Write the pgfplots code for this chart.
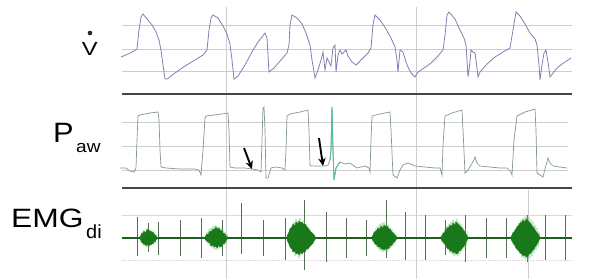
\documentclass[border=0pt]{standalone}
\usepackage{pgfplots}
\pgfplotsset{compat=1.18}
\usepackage{pgfplotstable}
\usepackage{fontspec}
\setmainfont{Liberation Sans}
\usetikzlibrary{arrows.meta}
\definecolor{flowc}{RGB}{135,125,180}
\definecolor{pawc}{RGB}{130,152,145}
\definecolor{pawspike}{RGB}{80,190,155}
\definecolor{gridc}{RGB}{205,205,205}
\definecolor{sepc}{RGB}{70,70,70}
\definecolor{emgdark}{RGB}{25,120,25}
\definecolor{emglight}{RGB}{90,190,90}
\definecolor{emgbase}{RGB}{30,95,30}
\definecolor{emgspike}{RGB}{85,110,85}
\definecolor{faintpink}{RGB}{230,210,225}

\pgfplotstableread{
x y dn up
137 238 21 18
148 238 15 14
158 238 16 17
180 238 18 18
201 238 20 20
222 238 18 18
241 238 35 16
263 238 18 18
285 238 20 22
304 238 38 32
326 238 26 24
346 238 20 20
366 238 18 18
386 238 38 20
405 238 26 22
425 238 23 22
445 238 18 17
465 238 23 24
486 238 20 20
506 238 20 20
527 238 23 24
545 238 23 22
565 238 23 22
}\spikes

\begin{document}
\begin{tikzpicture}
\begin{axis}[scale only axis, width=589pt, height=279pt,
  xmin=0, xmax=589, ymin=0, ymax=279, y dir=reverse,
  hide axis, clip=false]
\fill[white] (rel axis cs:0,0) rectangle (rel axis cs:1,1);
% grid lines
\draw[gridc, line width=0.6pt] (axis cs:122,25) -- (axis cs:572,25);
\draw[gridc, line width=0.6pt] (axis cs:122,49) -- (axis cs:572,49);
\draw[gridc, line width=0.6pt] (axis cs:122,71) -- (axis cs:572,71);
\draw[gridc, line width=0.6pt] (axis cs:122,122) -- (axis cs:568,122);
\draw[gridc, line width=0.6pt] (axis cs:122,146) -- (axis cs:568,146);
\draw[gridc, line width=0.6pt] (axis cs:122,170) -- (axis cs:568,170);
\draw[faintpink, line width=0.6pt] (axis cs:122,215) -- (axis cs:572,215);
\draw[faintpink, line width=0.6pt, dash pattern=on 2pt off 1pt] (axis cs:122,260) -- (axis cs:572,260);
\draw[gridc, line width=0.7pt] (axis cs:226,7) -- (axis cs:226,279);
\draw[gridc, line width=0.7pt] (axis cs:416,7) -- (axis cs:416,279);
\draw[gridc, line width=0.7pt] (axis cs:528,190) -- (axis cs:528,279);
% separators
\draw[sepc, line width=1.8pt] (axis cs:122,94) -- (axis cs:572,94);
\draw[sepc, line width=1.8pt] (axis cs:122,188) -- (axis cs:572,188);

% Flow
\addplot[flowc, line width=0.8pt] coordinates {
(121,57) (128,54) (134,51) (137,49) (139,30) (141,17) (143,14) (147,19) (152,25) (156,32) (159,40) (161,50) (163,65) (165,79) (167,79) (175,73) (185,66) (195,60) (203,55) (207,50) (209,30) (211,18) (213,15) (218,18) (223,26) (227,34) (230,44) (232,60) (234,79) (238,76) (245,65) (252,52) (258,42) (262,37) (265,33) (267,38) (268,55) (269,72) (274,68) (281,60) (287,53) (289,45) (290,25) (292,15) (297,18) (302,24) (306,33) (310,45) (312,60) (315,78) (318,70) (321,60) (323,52) (325,70) (327,58) (329,62) (331,66) (333,48) (335,45) (336,72) (338,55) (340,50) (342,54) (344,52) (346,50) (348,56) (352,62) (356,65) (362,59) (368,53) (371,48) (373,25) (375,15) (380,20) (386,29) (391,38) (395,47) (397,60) (398,72) (400,50) (403,52) (406,62) (408,67) (411,73) (415,77) (418,72) (424,68) (431,63) (438,56) (443,50) (445,35) (447,15) (449,12) (455,19) (460,30) (464,38) (466,45) (467,60) (468,77) (470,62) (471,50) (473,52) (475,53) (477,68) (478,77) (480,72) (487,64) (495,57) (503,52) (510,48) (513,30) (516,12) (520,16) (525,24) (530,33) (535,39) (537,45) (539,65) (540,80) (542,65) (544,53) (546,50) (548,62) (550,77) (553,73) (558,67) (565,62) (571,58)
};

% Paw
\addplot[pawc, line width=0.7pt] coordinates {
(120,168) (126,168) (130,171) (134,172) (136,168) (137,140) (138,116) (140,115) (150,113) (158,112) (159,120) (160,150) (161,167) (166,168) (180,169) (195,169) (199,170) (201,175) (203,150) (205,118) (206,116) (215,115) (228,113) (229,130) (230,167) (235,168) (245,168) (252,169) (258,170) (261,172) (262,140) (263,108) (264,107) (265,130) (266,178) (268,178) (271,168) (276,167) (282,168) (285,170) (286,150) (287,116) (290,114) (300,112) (308,110) (309,130) (310,166) (318,166) (325,166) (328,165) (330,160) (331,150) (332,107) (333,150) (334,180) (336,168) (340,162) (345,164) (350,163) (357,168) (365,166) (369,168) (370,172) (371,140) (372,116) (380,114) (390,112) (391,130) (393,175) (397,178) (400,170) (403,165) (408,163) (415,166) (425,167) (435,168) (440,168) (442,175) (443,145) (445,116) (452,113) (462,110) (463,130) (465,173) (468,170) (471,165) (474,160) (475,157) (477,163) (480,166) (490,167) (500,168) (507,168) (511,172) (512,175) (514,140) (517,116) (525,112) (535,109) (536,130) (537,173) (540,175) (543,177) (546,165) (548,158) (550,163) (553,166) (560,167) (567,168)
};
\addplot[pawspike, line width=0.9pt] coordinates {(330,160) (331,150) (332,107) (333,150) (334,180) (336,168) (340,162)};

% arrows
\draw[-{Stealth[length=8pt,width=7.5pt]}, line width=1.9pt, black] (axis cs:244,148) -- (axis cs:252,169);
\draw[-{Stealth[length=8pt,width=7.5pt]}, line width=1.9pt, black] (axis cs:319,138) -- (axis cs:323,166);

% EMG spikes
\addplot[emgspike, draw=none, mark=none, forget plot,
  error bars/.cd, y dir=both, y explicit, error mark=none,
  error bar style={draw=emgspike, line width=0.55pt}]
  table[x=x, y=y, y error plus=up, y error minus=dn] {\spikes};
% EMG burst halos (raw zigzag)
\addplot[emglight, line width=0.6pt] coordinates {(140,236)(141,241)(142,232)(143,244)(144,230)(145,245)(146,231)(147,247)(148,228)(149,246)(150,230)(151,245)(152,231)(153,244)(154,233)(155,242)(156,235)(157,240)};
\addplot[emglight, line width=0.6pt] coordinates {(205,236)(206,241)(207,232)(208,244)(209,229)(210,246)(211,228)(212,248)(213,226)(214,249)(215,225)(216,250)(217,226)(218,249)(219,227)(220,248)(221,228)(222,247)(223,230)(224,245)(225,232)(226,243)(227,235)(228,240)};
\addplot[emglight, line width=0.6pt] coordinates {(288,236)(289,243)(290,228)(291,249)(292,226)(293,252)(294,222)(295,256)(296,219)(297,254)(298,221)(299,258)(300,218)(301,255)(302,222)(303,253)(304,220)(305,252)(306,224)(307,250)(308,227)(309,248)(310,229)(311,246)(312,232)(313,243)(314,235)(315,240)};
\addplot[emglight, line width=0.6pt] coordinates {(372,236)(373,241)(374,231)(375,244)(376,228)(377,247)(378,226)(379,250)(380,224)(381,251)(382,223)(383,252)(384,222)(385,251)(386,224)(387,252)(388,225)(389,250)(390,227)(391,248)(392,229)(393,246)(394,232)(395,243)(396,235)(397,240)};
\addplot[emglight, line width=0.6pt] coordinates {(441,236)(442,241)(443,232)(444,244)(445,229)(446,247)(447,226)(448,250)(449,224)(450,253)(451,222)(452,254)(453,220)(454,256)(455,221)(456,255)(457,219)(458,256)(459,222)(460,254)(461,224)(462,251)(463,227)(464,249)(465,230)(466,246)(467,234)(468,241)};
\addplot[emglight, line width=0.6pt] coordinates {(511,236)(512,241)(513,232)(514,245)(515,229)(516,248)(517,226)(518,251)(519,223)(520,254)(521,220)(522,257)(523,218)(524,258)(525,217)(526,259)(527,216)(528,260)(529,218)(530,258)(531,220)(532,256)(533,222)(534,253)(535,225)(536,250)(537,228)(538,247)(539,232)(540,242)};
% EMG baseline
\addplot[emgbase, line width=2pt] coordinates {(122,238) (572,238)};
% EMG burst cores
\addplot[fill=emgdark, draw=emgdark, line width=0.4pt] coordinates {
(140,237) (141,235) (142,233) (143,234) (144,231) (145,233) (146,232) (147,229) (148,231) (149,230) (150,232) (151,231) (152,233) (153,232) (154,234) (155,235) (156,236) (157,238)
(156,240) (155,242) (154,241) (153,244) (152,243) (151,245) (150,244) (149,246) (148,245) (147,244) (146,246) (145,243) (144,245) (143,242) (142,243) (141,240) (140,239)} -- cycle;
\addplot[fill=emgdark, draw=emgdark, line width=0.4pt] coordinates {
(205,237) (207,234) (208,235) (210,231) (211,232) (213,229) (214,230) (216,227) (217,229) (219,228) (220,230) (222,231) (223,233) (225,234) (226,236) (228,238)
(226,240) (225,243) (223,244) (222,246) (220,247) (219,245) (217,248) (216,246) (214,247) (213,245) (211,246) (210,243) (208,242) (207,241) (205,239)} -- cycle;
\addplot[fill=emgdark, draw=emgdark, line width=0.4pt] coordinates {
(287,236) (289,232) (290,229) (292,227) (293,224) (295,226) (296,222) (298,224) (299,221) (301,223) (302,222) (304,225) (305,224) (307,227) (308,228) (310,231) (311,232) (313,234) (314,235) (316,238)
(314,241) (313,243) (311,245) (310,246) (308,249) (307,248) (305,252) (304,251) (302,254) (301,252) (299,255) (298,253) (296,254) (295,251) (293,252) (292,249) (290,247) (289,244) (287,240)} -- cycle;
\addplot[fill=emgdark, draw=emgdark, line width=0.4pt] coordinates {
(372,237) (374,233) (375,232) (377,230) (378,228) (380,229) (381,226) (383,228) (384,225) (386,227) (387,226) (389,229) (390,229) (392,232) (393,233) (395,235) (397,238)
(395,241) (393,243) (392,245) (390,246) (389,248) (387,249) (386,248) (384,250) (383,249) (381,249) (380,247) (378,247) (377,245) (375,244) (374,242) (372,239)} -- cycle;
\addplot[fill=emgdark, draw=emgdark, line width=0.4pt] coordinates {
(441,237) (443,234) (444,233) (446,230) (447,228) (449,227) (450,225) (452,226) (453,223) (455,225) (456,222) (458,224) (459,225) (461,227) (462,228) (464,231) (465,232) (467,236) (468,238)
(467,240) (465,244) (464,246) (462,248) (461,250) (459,251) (458,253) (456,254) (455,252) (453,253) (452,251) (450,251) (449,249) (447,248) (446,246) (444,243) (443,242) (441,239)} -- cycle;
\addplot[fill=emgdark, draw=emgdark, line width=0.4pt] coordinates {
(511,237) (513,233) (514,232) (516,229) (517,227) (519,225) (520,223) (522,222) (523,220) (525,222) (526,219) (528,221) (529,222) (531,224) (532,226) (534,228) (535,230) (537,233) (538,234) (540,238)
(538,242) (537,244) (535,247) (534,249) (532,251) (531,253) (529,254) (528,256) (526,257) (525,255) (523,256) (522,254) (520,253) (519,251) (517,249) (516,248) (514,244) (513,243) (511,239)} -- cycle;

% labels
\node[anchor=base west, inner sep=0pt, xscale=1.25] at (axis cs:81.5,55) {\fontsize{19}{20}\selectfont V};
\fill[black!85] (axis cs:90,33) circle (2.3pt);
\node[anchor=base west, inner sep=0pt, xscale=1.1] at (axis cs:53,142) {\fontsize{28}{30}\selectfont P};
\node[anchor=base west, inner sep=0pt, xscale=1.12] at (axis cs:76,152) {\fontsize{17}{18}\selectfont aw};
\node[anchor=base west, inner sep=0pt, xscale=1.2] at (axis cs:11,227) {\fontsize{26.5}{28}\selectfont EMG};
\node[anchor=base west, inner sep=0pt, xscale=1.05] at (axis cs:86,238) {\fontsize{19}{20}\selectfont di};
\end{axis}
\end{tikzpicture}
\end{document}
